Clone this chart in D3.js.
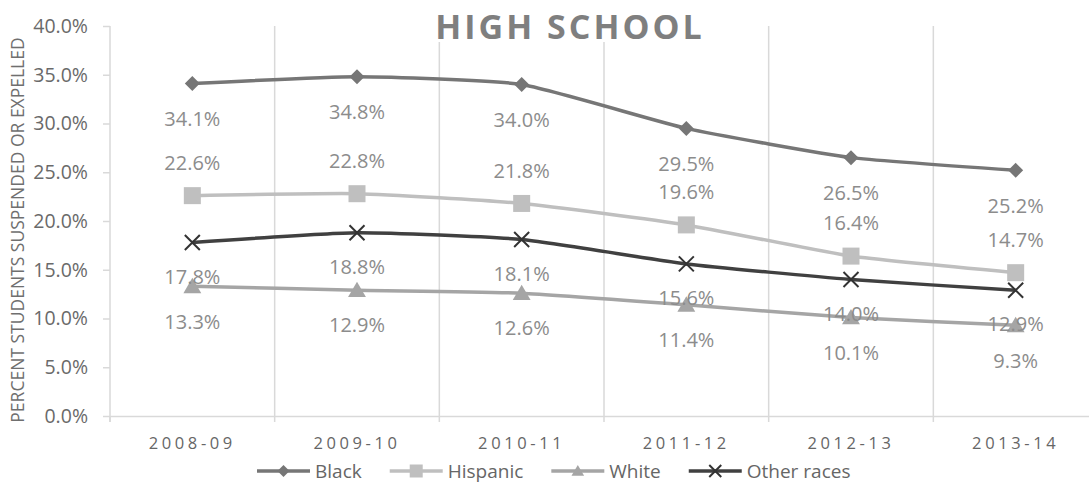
<!DOCTYPE html>
<html>
<head>
<meta charset="utf-8">
<script src="https://cdn.jsdelivr.net/npm/d3@7"></script>
<style>
  body { margin: 0; background: #fff; }
  svg { display: block; font-family: 'Open Sans', sans-serif; }
</style>
</head>
<body>
<svg id="chart"></svg>
<script>
const categories = ['2008-09', '2009-10', '2010-11', '2011-12', '2012-13', '2013-14']
const black = [34.1, 34.8, 34.0, 29.5, 26.5, 25.2]
const hispanic = [22.6, 22.8, 21.8, 19.6, 16.4, 14.7]
const white = [13.3, 12.9, 12.6, 11.4, 10.1, 9.3]
const otherRaces = [17.8, 18.8, 18.1, 15.6, 14.0, 12.9]
const yTicks = [0, 5, 10, 15, 20, 25, 30, 35, 40]

const width = 1089
const height = 482

// labels sit a fixed distance above/below their point, per series
const series = [
  { name: 'Black', values: black, color: '#767676', marker: 'diamond', labelDy: 35 },
  { name: 'Hispanic', values: hispanic, color: '#bfbfbf', marker: 'square', labelDy: -33 },
  { name: 'White', values: white, color: '#a5a5a5', marker: 'triangle', labelDy: 35 },
  { name: 'Other races', values: otherRaces, color: '#404040', marker: 'cross', labelDy: 34 }
]

const svg = d3.select('#chart').attr('width', width).attr('height', height)

const x = d3.scaleBand().domain(categories).range([110, 1098])
const y = d3.scaleLinear().domain([0, 40]).range([416, 26])
const cx = (c) => x(c) + x.bandwidth() / 2

const gridColor = '#d9d9d9'

// vertical gridlines at category boundaries
svg
  .append('g')
  .selectAll('line')
  .data(d3.range(1, categories.length + 1))
  .enter()
  .append('line')
  .attr('x1', (d) => 110 + d * x.bandwidth())
  .attr('x2', (d) => 110 + d * x.bandwidth())
  .attr('y1', y(40))
  .attr('y2', y(0))
  .attr('stroke', gridColor)
  .attr('stroke-width', 1.5)

// x axis
const xAxis = svg
  .append('g')
  .attr('transform', 'translate(0,' + y(0) + ')')
  .call(d3.axisBottom(x).tickSize(0).tickPadding(21))
xAxis.select('.domain').attr('stroke', gridColor).attr('stroke-width', 1.5)
xAxis
  .selectAll('text')
  .attr('font-size', 16.5)
  .attr('letter-spacing', 3.6)
  .attr('fill', '#666')
  .attr('font-family', "'Open Sans', sans-serif")
xAxis
  .selectAll('.bound')
  .data(d3.range(categories.length + 1))
  .enter()
  .append('line')
  .attr('x1', (d) => 110 + d * x.bandwidth())
  .attr('x2', (d) => 110 + d * x.bandwidth())
  .attr('y1', 0)
  .attr('y2', 6)
  .attr('stroke', gridColor)
  .attr('stroke-width', 1.5)

// y axis
const yAxis = svg
  .append('g')
  .attr('transform', 'translate(110,0)')
  .call(
    d3
      .axisLeft(y)
      .tickValues(yTicks)
      .tickSize(7)
      .tickPadding(15)
      .tickFormat((d) => d.toFixed(1) + '%')
  )
yAxis.select('.domain').attr('stroke', gridColor).attr('stroke-width', 1.5).attr('d', 'M0,' + y(40) + 'V' + (y(0) + 6))
yAxis.selectAll('.tick line').attr('stroke', gridColor).attr('stroke-width', 1.5)
yAxis
  .selectAll('text')
  .attr('font-size', 19.5)
  .attr('fill', '#6a6a6a')
  .attr('font-family', "'Open Sans', sans-serif")

svg
  .append('text')
  .attr('transform', 'translate(24,230) rotate(-90)')
  .attr('text-anchor', 'middle')
  .attr('font-size', 17.5)
  .attr('fill', '#6f6f6f')
  .text('PERCENT STUDENTS SUSPENDED OR EXPELLED')

// title on a white box, it hides the gridlines behind it
const titleBox = svg.append('rect').attr('fill', '#fff')
const title = svg
  .append('text')
  .attr('x', 570)
  .attr('y', 39)
  .attr('text-anchor', 'middle')
  .attr('font-size', 34)
  .attr('font-weight', 'bold')
  .attr('letter-spacing', 3)
  .attr('fill', '#7f7f7f')
  .text('HIGH SCHOOL')
const tb = title.node().getBBox()
titleBox
  .attr('x', tb.x - 4)
  .attr('y', 20)
  .attr('width', tb.width + 8)
  .attr('height', 22)

const drawMarker = (g, type, color, s) => {
  if (type === 'diamond') {
    g.append('path').attr('d', `M0,${-s}L${s},0L0,${s}L${-s},0Z`).attr('fill', color)
  } else if (type === 'square') {
    g.append('rect').attr('x', -s).attr('y', -s).attr('width', 2 * s).attr('height', 2 * s).attr('fill', color)
  } else if (type === 'triangle') {
    g.append('path').attr('d', `M0,${-s}L${s * 1.05},${s * 0.8}L${-s * 1.05},${s * 0.8}Z`).attr('fill', color)
  } else {
    g.append('path')
      .attr('d', `M${-s},${-s}L${s},${s}M${-s},${s}L${s},${-s}`)
      .attr('stroke', color)
      .attr('stroke-width', 2)
      .attr('fill', 'none')
  }
}

const markerSize = { diamond: 7.5, square: 8.5, triangle: 8.5, cross: 7.5 }

// excel-style light smoothing
const line = d3
  .line()
  .x((d, i) => cx(categories[i]))
  .y((d) => y(d))
  .curve(d3.curveCardinal.tension(0.5))

series.forEach((s) => {
  svg
    .append('path')
    .attr('d', line(s.values))
    .attr('fill', 'none')
    .attr('stroke', s.color)
    .attr('stroke-width', 3.5)
})

series.forEach((s) => {
  svg
    .append('g')
    .selectAll('g')
    .data(s.values)
    .enter()
    .append('g')
    .attr('transform', (d, i) => 'translate(' + cx(categories[i]) + ',' + y(d) + ')')
    .each(function () {
      drawMarker(d3.select(this), s.marker, s.marker === 'cross' ? '#333' : s.color, markerSize[s.marker])
    })
})

series.forEach((s) => {
  svg
    .append('g')
    .selectAll('text')
    .data(s.values)
    .enter()
    .append('text')
    .attr('x', (d, i) => cx(categories[i]))
    .attr('y', (d) => y(d) + s.labelDy)
    .attr('dy', '0.36em')
    .attr('text-anchor', 'middle')
    .attr('font-size', 20)
    .attr('fill', '#8c8c8c')
    .text((d) => d.toFixed(1) + '%')
})

// legend
const legend = svg.append('g').attr('transform', 'translate(0,471)')
let lx = 257
series.forEach((s) => {
  const g = legend.append('g').attr('transform', 'translate(' + lx + ',0)')
  g.append('line').attr('x1', 0).attr('x2', 53).attr('stroke', s.color).attr('stroke-width', 3.5)
  const mg = g.append('g').attr('transform', 'translate(26.5,0)')
  drawMarker(mg, s.marker, s.marker === 'cross' ? '#333' : s.color, s.marker === 'square' ? 6.5 : 6)
  const t = g
    .append('text')
    .attr('x', 58)
    .attr('dy', '0.35em')
    .attr('font-size', 19)
    .attr('fill', '#666')
    .text(s.name)
  lx += 58 + t.node().getComputedTextLength() + 28
})
</script>
</body>
</html>
